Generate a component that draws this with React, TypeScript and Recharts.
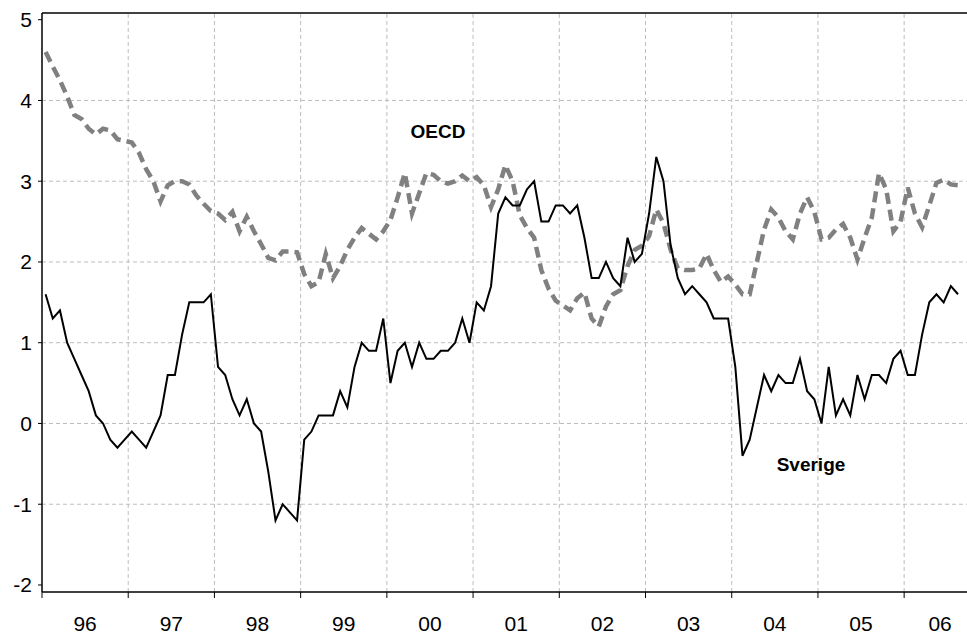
import React from 'react';
import { LineChart, Line, XAxis, YAxis, ReferenceLine } from 'recharts';

// Monthly data Jan 1996 - Aug 2006
const yearLabels = ['96', '97', '98', '99', '00', '01', '02', '03', '04', '05', '06'];

const sverige = [
  1.6, 1.3, 1.4, 1.0, 0.8, 0.6, 0.4, 0.1, 0.0, -0.2, -0.3, -0.2,
  -0.1, -0.2, -0.3, -0.1, 0.1, 0.6, 0.6, 1.1, 1.5, 1.5, 1.5, 1.6,
  0.7, 0.6, 0.3, 0.1, 0.3, 0.0, -0.1, -0.6, -1.2, -1.0, -1.1, -1.2,
  -0.2, -0.1, 0.1, 0.1, 0.1, 0.4, 0.2, 0.7, 1.0, 0.9, 0.9, 1.3,
  0.5, 0.9, 1.0, 0.7, 1.0, 0.8, 0.8, 0.9, 0.9, 1.0, 1.3, 1.0,
  1.5, 1.4, 1.7, 2.6, 2.8, 2.7, 2.7, 2.9, 3.0, 2.5, 2.5, 2.7,
  2.7, 2.6, 2.7, 2.3, 1.8, 1.8, 2.0, 1.8, 1.7, 2.3, 2.0, 2.1,
  2.6, 3.3, 3.0, 2.2, 1.8, 1.6, 1.7, 1.6, 1.5, 1.3, 1.3, 1.3,
  0.7, -0.4, -0.2, 0.2, 0.6, 0.4, 0.6, 0.5, 0.5, 0.8, 0.4, 0.3,
  0.0, 0.7, 0.1, 0.3, 0.1, 0.6, 0.3, 0.6, 0.6, 0.5, 0.8, 0.9,
  0.6, 0.6, 1.1, 1.5, 1.6, 1.5, 1.7, 1.6,
];

const oecd = [
  4.6, 4.42, 4.25, 4.05, 3.82, 3.77, 3.65, 3.58, 3.65, 3.63, 3.52, 3.5,
  3.48, 3.35, 3.15, 3.0, 2.75, 2.95, 3.0, 3.0, 2.96, 2.82, 2.72, 2.63,
  2.6, 2.52, 2.62, 2.38, 2.56, 2.38, 2.22, 2.05, 2.02, 2.13, 2.13, 2.12,
  1.85, 1.7, 1.75, 2.1, 1.8, 1.95, 2.15, 2.3, 2.42, 2.35, 2.28, 2.38,
  2.52, 2.8, 3.1, 2.6, 2.85, 3.1, 3.08, 3.0, 2.97, 3.0, 3.07, 3.0,
  3.05, 2.95, 2.68, 2.9, 3.2, 3.0, 2.58, 2.42, 2.3, 1.9, 1.67, 1.52,
  1.46, 1.4, 1.55, 1.62, 1.3, 1.2, 1.45, 1.6, 1.65, 1.95, 2.15, 2.2,
  2.32, 2.65, 2.48, 2.15, 1.92, 1.9, 1.9, 1.92, 2.1, 1.9, 1.75, 1.82,
  1.72, 1.6, 1.6, 2.0, 2.4, 2.65, 2.55, 2.38, 2.28, 2.6, 2.8, 2.62,
  2.28, 2.3, 2.4, 2.47, 2.3, 2.03, 2.3, 2.55, 3.1, 2.9, 2.38, 2.5,
  2.92, 2.6, 2.43, 2.7, 2.98, 3.02, 2.96, 2.95,
];

const yTicks = [-2, -1, 0, 1, 2, 3, 4, 5];
const yGrid = [-1, 0, 1, 2, 3, 4];
const yearStarts = [0, 12, 24, 36, 48, 60, 72, 84, 96, 108, 120];
const MONTHS_END = 130;
const Y_MIN = -2.087;
const Y_MAX = 5.083;

const data = sverige.map((v, i) => ({ m: i + 0.5, sverige: v, oecd: oecd[i] }));

const CHART_W = 976;
const CHART_H = 634;
const LEFT = 42;
const PXM = (CHART_W - LEFT) / MONTHS_END;
const FONT = 'Liberation Sans, Arial, sans-serif';

const XTick = (props: any) => {
  const { x, y, payload } = props;
  const start = payload.value as number;
  const idx = yearStarts.indexOf(start);
  const end = Math.min(start + 12, MONTHS_END);
  const cx = x + ((end - start) / 2) * PXM;
  return (
    <g>
      <line x1={x} y1={y} x2={x} y2={y + 6} stroke="#000" strokeWidth={1} />
      <text x={cx} y={y + 39} textAnchor="middle" fontSize={21} fill="#000"
        fontFamily={FONT}>{yearLabels[idx]}</text>
    </g>
  );
};

const YTick = (props: any) => {
  const { x, y, payload } = props;
  return (
    <text x={x} y={y} dy={7.5} textAnchor="end" fontSize={21} fill="#000"
      fontFamily={FONT}>{payload.value}</text>
  );
};

export default function App() {
  return (
    <div style={{ position: 'absolute', left: 0, top: 0, width: 967, height: 634, overflow: 'hidden', background: '#fff' }}>
      <LineChart width={CHART_W} height={CHART_H} data={data}
        margin={{ top: 13, right: 0, bottom: 0, left: 0 }}>
        {yGrid.map((v) => (
          <ReferenceLine key={'h' + v} y={v} stroke="#bdbdbd" strokeDasharray="4 3" strokeWidth={1} />
        ))}
        {yearStarts.slice(1).map((v) => (
          <ReferenceLine key={'v' + v} x={v} stroke="#bdbdbd" strokeDasharray="4 3" strokeWidth={1} />
        ))}
        <ReferenceLine y={Y_MAX} stroke="#000" strokeWidth={1.5} />
        <XAxis type="number" dataKey="m" domain={[0, MONTHS_END]} ticks={yearStarts}
          allowDataOverflow height={42} axisLine={{ stroke: '#000', strokeWidth: 1.5 }}
          tickLine={false} tickSize={0} tickMargin={0} tick={<XTick />} interval={0} />
        <YAxis type="number" domain={[Y_MIN, Y_MAX]} ticks={yTicks} allowDataOverflow width={LEFT}
          axisLine={{ stroke: '#000', strokeWidth: 1.5 }} tickLine={{ stroke: '#000' }} tickSize={4}
          tickMargin={6} tick={<YTick />} interval={0} />
        <Line type="linear" dataKey="oecd" stroke="#808080" strokeWidth={4.5} strokeDasharray="11 6"
          dot={false} activeDot={false} isAnimationActive={false} />
        <Line type="linear" dataKey="sverige" stroke="#000" strokeWidth={2} dot={false}
          activeDot={false} isAnimationActive={false} />
      </LineChart>
      <div style={{ position: 'absolute', left: 438, top: 132, transform: 'translate(-50%, -50%)',
        fontFamily: FONT, fontWeight: 'bold', fontSize: 19 }}>OECD</div>
      <div style={{ position: 'absolute', left: 811, top: 465, transform: 'translate(-50%, -50%)',
        fontFamily: FONT, fontWeight: 'bold', fontSize: 19 }}>Sverige</div>
    </div>
  );
}
